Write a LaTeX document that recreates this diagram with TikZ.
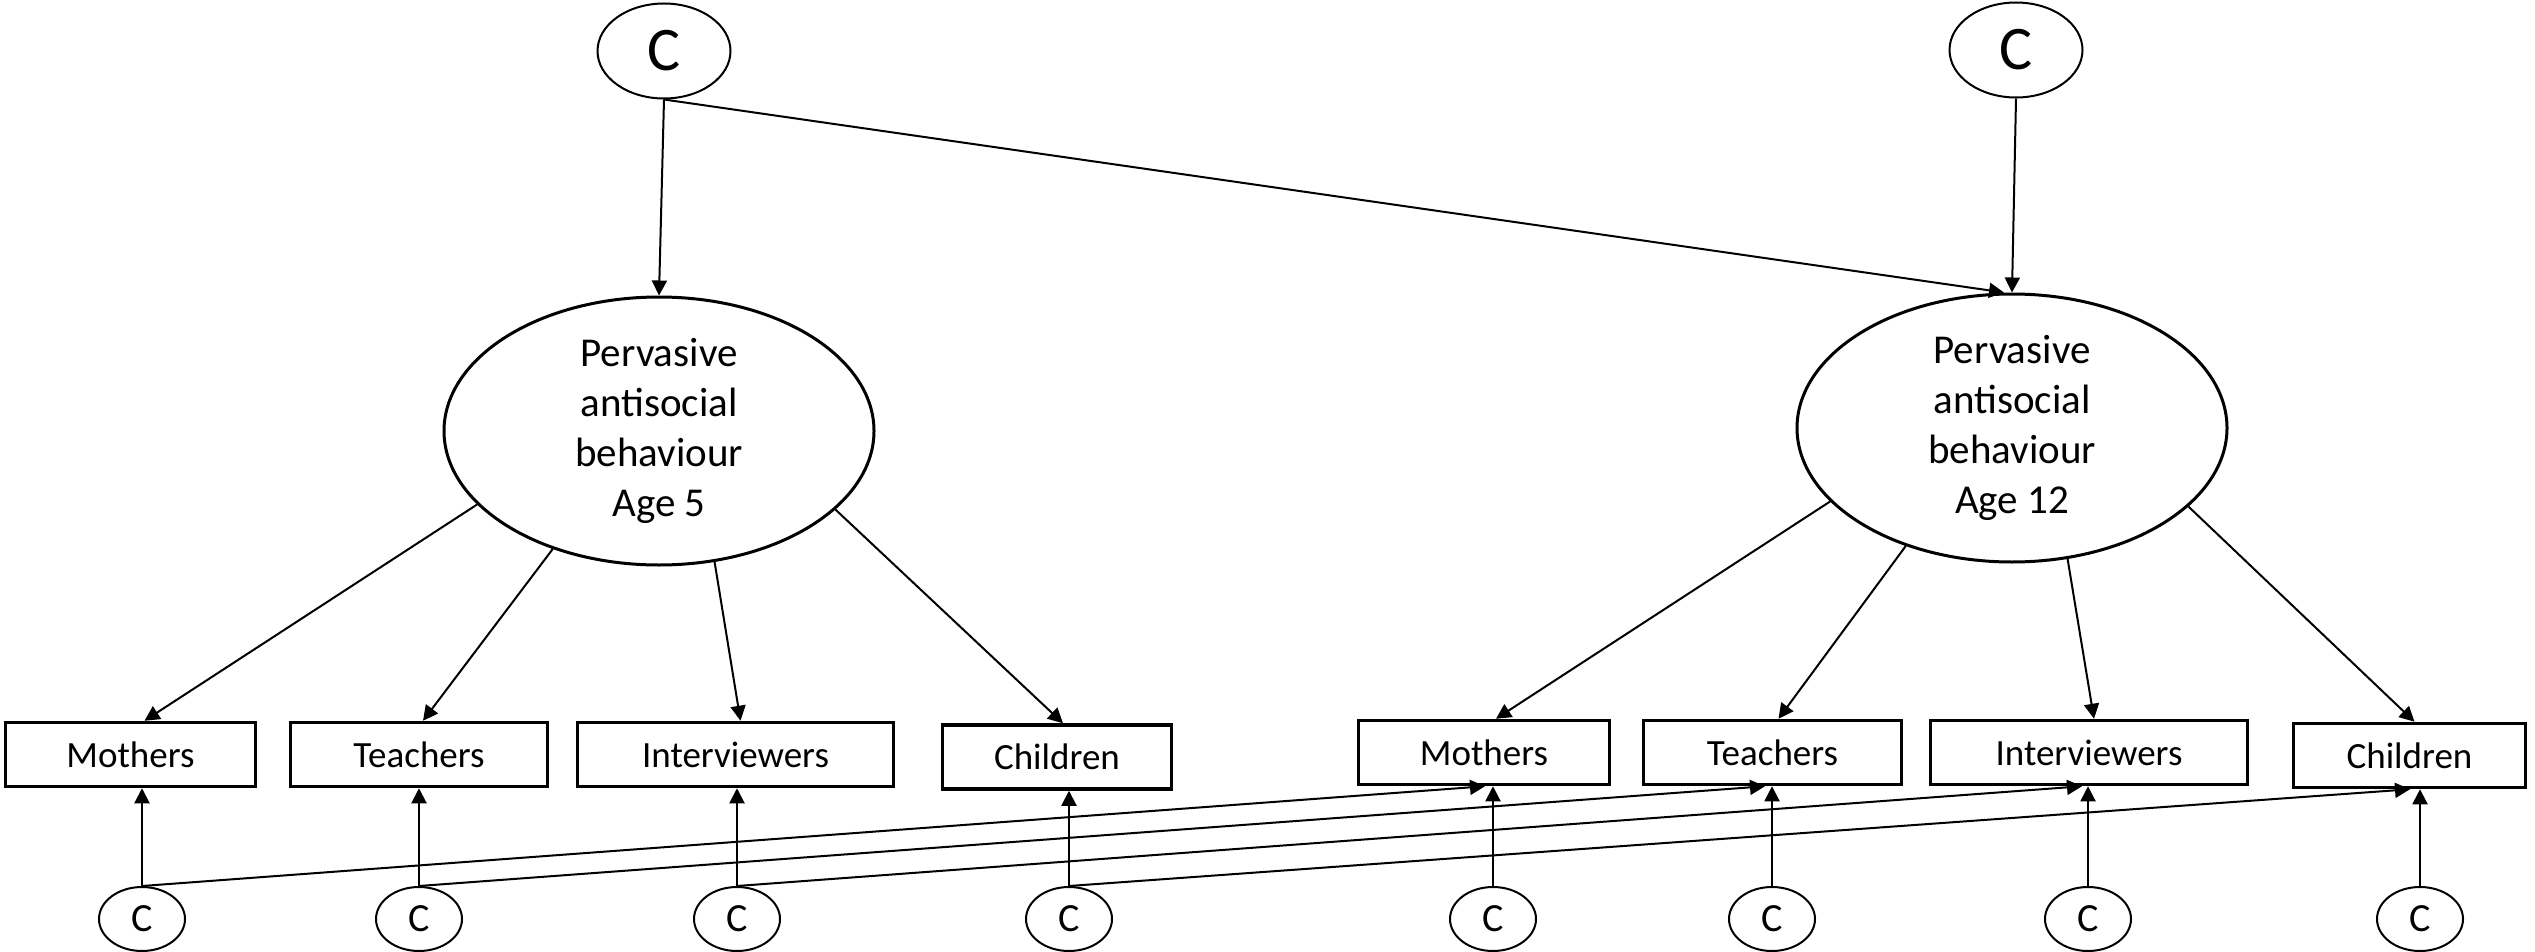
\documentclass[tikz,border=0pt]{standalone}
\usepackage{fontspec}
\setmainfont{Carlito}
\usetikzlibrary{shapes.geometric,arrows.meta,calc}
\begin{document}
\begin{tikzpicture}[x=1pt,y=1pt,
  lat/.style={ellipse,draw,line width=3pt,inner sep=0pt,minimum width=430pt,minimum height=268pt,align=center,font=\fontsize{41}{50}\selectfont},
  topc/.style={ellipse,draw,line width=2pt,inner sep=0pt,minimum width=133pt,minimum height=95pt,font=\fontsize{62}{62}\selectfont},
  botc/.style={ellipse,draw,line width=2pt,inner sep=0pt,minimum width=86pt,minimum height=64pt,font=\fontsize{40}{40}\selectfont},
  obs/.style={rectangle,draw,line width=3.5pt,inner sep=0pt,minimum height=64pt,font=\fontsize{37}{37}\selectfont},
  arr/.style={-{Triangle[length=15pt,width=15pt]},line width=2pt},
]
\useasboundingbox (0,0) rectangle (2535,-952);
% latent and top factors
\node[topc] (tc1) at (664,-51) {C};
\node[topc] (tc2) at (2016,-50) {C};
\node[lat] (e1) at (659,-431) {Pervasive\\antisocial\\behaviour\\Age 5};
\node[lat] (e2) at (2012,-428) {Pervasive\\antisocial\\behaviour\\Age 12};
% observed boxes
\node[obs,minimum width=250pt] (m1) at (130.5,-754.5) {Mothers};
\node[obs,minimum width=257pt] (t1) at (419,-754.5) {Teachers};
\node[obs,minimum width=316pt] (i1) at (735.5,-754.5) {Interviewers};
\node[obs,minimum width=229pt] (c1) at (1057,-757) {Children};
\node[obs,minimum width=251pt] (m2) at (1484,-752.5) {Mothers};
\node[obs,minimum width=258pt] (t2) at (1772.5,-752.5) {Teachers};
\node[obs,minimum width=317pt] (i2) at (2089,-752.5) {Interviewers};
\node[obs,minimum width=232pt] (c2) at (2409.5,-755.5) {Children};
% bottom residual factors
\node[botc] (b1) at (142,-919) {C};
\node[botc] (b2) at (419,-919) {C};
\node[botc] (b3) at (737,-919) {C};
\node[botc] (b4) at (1069,-919) {C};
\node[botc] (b5) at (1493,-919) {C};
\node[botc] (b6) at (1772,-919) {C};
\node[botc] (b7) at (2088,-919) {C};
\node[botc] (b8) at (2420,-919) {C};
% top arrows
\draw[arr] (tc1.south) -- (e1.north);
\draw[arr] (tc1.south) -- ($(e2.north)+(-8,0)$);
\draw[arr] (tc2.south) -- (e2.north);
% loadings
\draw[arr] (e1.202) -- ($(m1.north)+(14,0)$);
\draw[arr] (e1.228) -- ($(t1.north)+(4,0)$);
\draw[arr] (e1.293) -- ($(i1.north)+(5,0)$);
\draw[arr] (e1.336) -- ($(c1.north)+(6,0)$);
\draw[arr] (e2.202) -- ($(m2.north)+(12,0)$);
\draw[arr] (e2.228) -- ($(t2.north)+(6,0)$);
\draw[arr] (e2.293) -- ($(i2.north)+(5,0)$);
\draw[arr] (e2.336) -- ($(c2.north)+(5,0)$);
% residual verticals
\draw[arr] (b1.north) -- (b1.north |- m1.south);
\draw[arr] (b2.north) -- (b2.north |- t1.south);
\draw[arr] (b3.north) -- (b3.north |- i1.south);
\draw[arr] (b4.north) -- (b4.north |- c1.south);
\draw[arr] (b5.north) -- (b5.north |- m2.south);
\draw[arr] (b6.north) -- (b6.north |- t2.south);
\draw[arr] (b7.north) -- (b7.north |- i2.south);
\draw[arr] (b8.north) -- (b8.north |- c2.south);
% cross-age residual paths
\draw[arr] (b1.north) -- ($(b5.north |- m2.south)+(-8,0)$);
\draw[arr] (b2.north) -- ($(b6.north |- t2.south)+(-7,0)$);
\draw[arr] (b3.north) -- ($(b7.north |- i2.south)+(-6,0)$);
\draw[arr] (b4.north) -- ($(b8.north |- c2.south)+(-10,0)$);
\end{tikzpicture}
\end{document}
